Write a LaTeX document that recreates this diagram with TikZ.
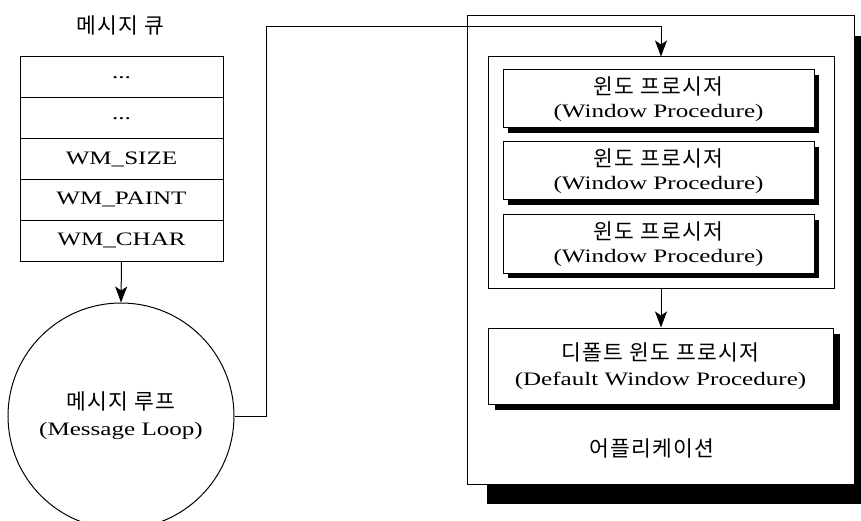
\documentclass[tikz,border=0pt]{standalone}
\usepackage{fontspec}
\setmainfont{Liberation Serif}[FakeStretch=1.32]
\newfontfamily\krfont{Noto Sans CJK KR}[LetterSpace=6]
\newcommand\hangul[1]{{\krfont\fontsize{21.5}{25}\selectfont #1}}
\usetikzlibrary{arrows.meta,shadows}

\begin{document}
\begin{tikzpicture}[x=1pt,y=-1pt,line width=1pt,
  every node/.style={inner sep=0pt,font=\fontsize{19}{23}\selectfont},
  arr/.style={-{Stealth[length=16pt,width=12pt,inset=4pt]}},
  cell/.style={draw,fill=white,minimum width=203pt,minimum height=40.8pt},
  procbox/.style={draw,fill=white,align=center,minimum width=311pt,minimum height=58pt,
    drop shadow={shadow xshift=5pt,shadow yshift=-5pt,opacity=1,fill=black}},
  defbox/.style={draw,fill=white,align=center,minimum width=345pt,minimum height=76pt,
    drop shadow={shadow xshift=7pt,shadow yshift=-6pt,opacity=1,fill=black}},
  appbox/.style={draw,fill=white,minimum width=387pt,minimum height=468pt,
    drop shadow={shadow xshift=20pt,shadow yshift=-20pt,opacity=1,fill=black}},
  groupbox/.style={draw,fill=white,minimum width=346pt,minimum height=231pt}]
\useasboundingbox (0,0) rectangle (861,521);

% message queue
\node (qtitle) at (120,25) {\hangul{메시지 큐}};
\node[cell] (q1) at (121.5,77.4) {...};
\node[cell] (q2) at (121.5,118.2) {...};
\node[cell] (q3) at (121.5,159) {WM\_SIZE};
\node[cell] (q4) at (121.5,199.8) {WM\_PAINT};
\node[cell] (q5) at (121.5,240.6) {WM\_CHAR};

% message loop
\node[circle,draw,minimum size=226pt,align=center] (loop) at (121,416)
  {\hangul{메시지 루프}\\[3pt](Message Loop)};
\draw[arr] (q5.south) -- (loop.north);

% application
\node[appbox] (app) at (660.5,250) {};
\node[groupbox] (group) at (661,172.5) {};
\node[procbox] (p1) at (658.5,99) {\hangul{윈도 프로시저}\\[0pt](Window Procedure)};
\node[procbox] (p2) at (658.5,171) {\hangul{윈도 프로시저}\\[0pt](Window Procedure)};
\node[procbox] (p3) at (658.5,244) {\hangul{윈도 프로시저}\\[0pt](Window Procedure)};
\node[defbox] (def) at (660.5,366) {\hangul{디폴트 윈도 프로시저}\\[2pt](Default Window Procedure)};
\node (applbl) at (652,448) {\hangul{어플리케이션}};
\draw[arr] (group.south) -- (group.south |- def.north);

% loop to window procedures
\coordinate (turn) at (266,27);
\draw[arr] (loop.east) -| (turn) -| (group.north);
\end{tikzpicture}
\end{document}
